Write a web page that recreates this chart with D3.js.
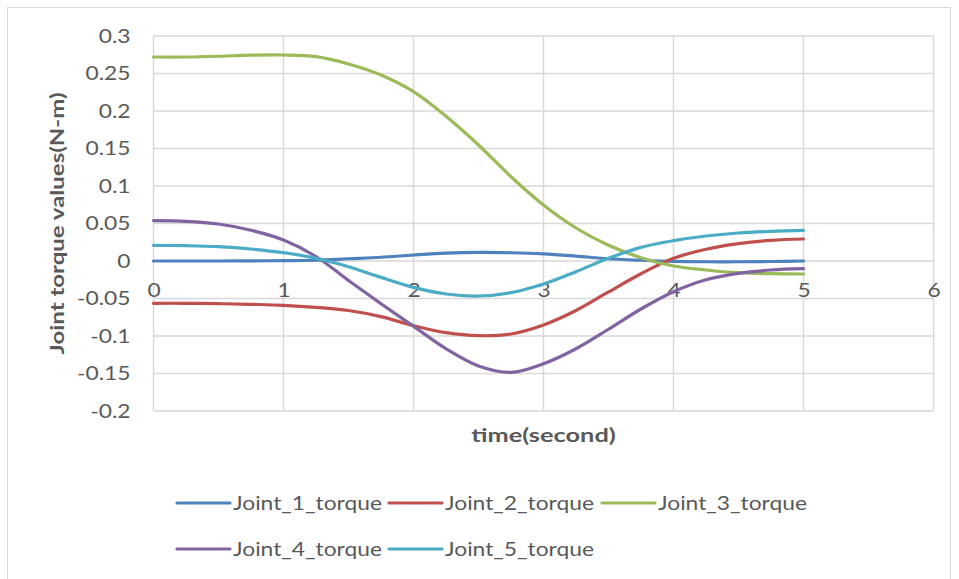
<!DOCTYPE html>
<html><head><meta charset="utf-8">
<script src="https://cdn.jsdelivr.net/npm/d3@7"></script>
<style>html,body{margin:0;padding:0;background:#fff;}svg{display:block;font-family:Lato,"Open Sans",sans-serif;}</style>
</head><body>
<svg id="chart" width="959" height="579"></svg>
<script>
const time = [0,0.25,0.5,0.75,1,1.25,1.5,1.75,2,2.25,2.5,2.75,3,3.25,3.5,3.75,4,4.25,4.5,4.75,5];
const joint1 = [0,0,0,0.0002,0.0005,0.001,0.003,0.005,0.008,0.0105,0.0115,0.011,0.0095,0.0065,0.003,0.001,-0.0005,-0.001,-0.001,-0.0007,0];
const joint2 = [-0.0564,-0.0564,-0.0569,-0.0578,-0.0591,-0.0618,-0.066,-0.0742,-0.0862,-0.0956,-0.0996,-0.0973,-0.0853,-0.066,-0.0413,-0.017,0.0036,0.0156,0.0231,0.0276,0.0293];
const joint3 = [0.272,0.272,0.273,0.2745,0.2747,0.2724,0.2627,0.248,0.2258,0.193,0.1547,0.1124,0.0747,0.044,0.021,0.0044,-0.0067,-0.012,-0.0156,-0.0169,-0.0173];
const joint4 = [0.0538,0.0529,0.0493,0.041,0.028,0.006,-0.026,-0.057,-0.087,-0.117,-0.140,-0.1485,-0.137,-0.117,-0.091,-0.064,-0.041,-0.025,-0.0165,-0.012,-0.0102];
const joint5 = [0.0209,0.0204,0.0191,0.016,0.0111,0.0036,-0.0076,-0.0218,-0.0351,-0.044,-0.0467,-0.0422,-0.0307,-0.0142,0.0036,0.0182,0.0271,0.0333,0.0373,0.0396,0.0409];
const seriesNames = ["Joint_1_torque","Joint_2_torque","Joint_3_torque","Joint_4_torque","Joint_5_torque"];
const seriesColors = ["#4F81BD","#C0504D","#9BBB59","#8064A2","#4BACC6"];
const xTicks = [0,1,2,3,4,5,6];
const yTicks = [-0.2,-0.15,-0.1,-0.05,0,0.05,0.1,0.15,0.2,0.25,0.3];
const xTitle = "time(second)";
const yTitle = "Joint torque values(N-m)";

const allSeries = [joint1,joint2,joint3,joint4,joint5];
const svg = d3.select("#chart");
const textColor = "#595959", gridColor = "#d9d9d9";

function stretch(sel, k){
  sel.each(function(){
    const w = this.getComputedTextLength();
    d3.select(this).attr("textLength", w*k).attr("lengthAdjust","spacingAndGlyphs");
  });
}

svg.append("rect").attr("x",7.5).attr("y",7.5).attr("width",943).attr("height",600)
  .attr("fill","#fff").attr("stroke",gridColor).attr("stroke-width",1);

const L=153.5, R=933.5, T=36, B=411;
const x = d3.scaleLinear().domain([0,6]).range([L,R]);
const y = d3.scaleLinear().domain([-0.2,0.3]).range([B,T]);

// grid
svg.append("g").selectAll("line").data(yTicks).join("line")
  .attr("x1",L).attr("x2",R).attr("y1",d=>y(d)).attr("y2",d=>y(d))
  .attr("stroke",gridColor).attr("stroke-width",1.5);
svg.append("g").selectAll("line").data(xTicks).join("line")
  .attr("x1",d=>x(d)).attr("x2",d=>x(d)).attr("y1",T).attr("y2",B)
  .attr("stroke",gridColor).attr("stroke-width",1.5);

// y axis labels
const yAxis = d3.axisLeft(y).tickValues(yTicks).tickSize(0).tickPadding(23)
  .tickFormat(d=>String(+d.toFixed(2)));
const gy = svg.append("g").attr("transform",`translate(${L},0)`).call(yAxis);
gy.select(".domain").remove();
gy.selectAll("text").attr("fill",textColor).style("font-size","19px").style("font-family","Lato");
stretch(gy.selectAll("text"),1.2);

// x axis labels at zero line
const xAxis = d3.axisBottom(x).tickValues(xTicks).tickSize(0).tickPadding(23).tickFormat(d3.format("d"));
const gx = svg.append("g").attr("transform",`translate(0,${y(0)})`).call(xAxis);
gx.select(".domain").remove();
gx.selectAll("text").attr("fill",textColor).style("font-size","19px").style("font-family","Lato");
stretch(gx.selectAll("text"),1.2);

// titles
const xt = svg.append("text").attr("x",(L+R)/2).attr("y",442).attr("text-anchor","middle")
  .attr("fill",textColor).style("font-size","19.5px").style("font-weight","bold").text(xTitle);
stretch(xt,1.3);
const yt = svg.append("text").attr("transform",`translate(64,${(T+B)/2}) rotate(-90)`).attr("text-anchor","middle")
  .attr("fill",textColor).style("font-size","19.5px").style("font-weight","bold").text(yTitle);
stretch(yt,1.23);

// lines
const line = d3.line().x((d,i)=>x(time[i])).y(d=>y(d)).curve(d3.curveCatmullRom.alpha(0.5));
svg.append("g").selectAll("path").data(allSeries).join("path")
  .attr("d",d=>line(d)).attr("fill","none")
  .attr("stroke",(d,i)=>seriesColors[i]).attr("stroke-width",3.2).attr("stroke-linecap","round");

// legend
const legPos = [[177,503],[389,503],[602,503],[177,549],[389,549]];
const lg = svg.append("g").selectAll("g").data(seriesNames).join("g")
  .attr("transform",(d,i)=>`translate(${legPos[i][0]},${legPos[i][1]})`);
lg.append("line").attr("x1",0).attr("x2",53).attr("y1",0).attr("y2",0)
  .attr("stroke",(d,i)=>seriesColors[i]).attr("stroke-width",3.2).attr("stroke-linecap","round");
const lt = lg.append("text").attr("x",56).attr("y",0).attr("dy","0.35em").attr("fill",textColor)
  .style("font-size","19px").text(d=>d);
stretch(lt,1.2);
</script>
</body></html>
